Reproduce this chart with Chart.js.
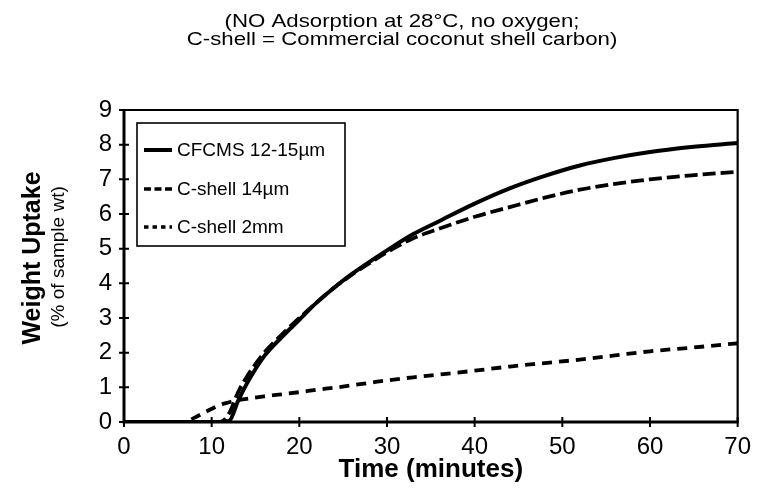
<!DOCTYPE html>
<html><head><meta charset="utf-8">
<script src="https://cdn.jsdelivr.net/npm/chart.js@4"></script>
<style>html,body{margin:0;padding:0;background:#fff;}</style>
</head><body>
<canvas id="c" width="762" height="489"></canvas>
<script>
const titleLines = ['(NO Adsorption at 28°C, no oxygen;', 'C-shell = Commercial coconut shell carbon)'];
const yTitle = 'Weight Uptake';
const ySubTitle = '(% of sample wt)';
const xTitle = 'Time (minutes)';
const seriesNames = ['CFCMS 12-15µm', 'C-shell 14µm', 'C-shell 2mm'];
const times     = [0, 5, 7, 8, 10, 11, 12, 13, 14, 16, 18, 20, 22, 24, 26, 28, 30, 33, 36, 40, 44, 48, 52, 56, 60, 65, 70];
const cfcms     = [0, 0, 0, 0, 0, 0, 0.03, 0.6, 1.1, 1.9, 2.45, 2.95, 3.45, 3.88, 4.27, 4.62, 4.95, 5.42, 5.8, 6.3, 6.74, 7.1, 7.4, 7.62, 7.79, 7.94, 8.05];
const cshell14  = [0, 0, 0, 0, 0, 0, 0.25, 0.85, 1.3, 2.0, 2.52, 3.0, 3.45, 3.88, 4.25, 4.58, 4.9, 5.3, 5.58, 5.92, 6.2, 6.47, 6.7, 6.87, 7.0, 7.12, 7.22];
const cshell2mm = [0, 0, 0, 0.12, 0.38, 0.5, 0.57, 0.63, 0.67, 0.74, 0.8, 0.86, 0.93, 0.99, 1.06, 1.13, 1.2, 1.29, 1.37, 1.48, 1.6, 1.7, 1.8, 1.92, 2.04, 2.15, 2.27];
const xTicks = [0, 10, 20, 30, 40, 50, 60, 70];
const yTicks = [0, 1, 2, 3, 4, 5, 6, 7, 8, 9];

const FONT = 'Liberation Sans, Arial, Helvetica, sans-serif';
const toPts = arr => arr.map((v, i) => ({x: times[i], y: v}));

const legendDash = [[], [7, 3.5], [4.5, 4]];

const decor = {
  id: 'decor',
  afterDatasetsDraw(chart) {
    const {ctx, chartArea: a, scales: {x, y}} = chart;
    ctx.save();
    ctx.strokeStyle = '#000';
    ctx.fillStyle = '#000';
    ctx.setLineDash([]);
    // frame
    ctx.lineWidth = 2.2;
    ctx.beginPath();
    ctx.moveTo(a.left, a.top); ctx.lineTo(a.right, a.top); ctx.lineTo(a.right, a.bottom);
    ctx.stroke();
    ctx.lineWidth = 3;
    ctx.beginPath();
    ctx.moveTo(a.left, a.top - 1); ctx.lineTo(a.left, a.bottom); ctx.lineTo(a.right + 1, a.bottom);
    ctx.stroke();
    // ticks crossing axes
    ctx.lineWidth = 2;
    ctx.beginPath();
    xTicks.forEach(v => { const p = x.getPixelForValue(v); ctx.moveTo(p, a.bottom - 5); ctx.lineTo(p, a.bottom + 5); });
    yTicks.forEach(v => { const p = y.getPixelForValue(v); ctx.moveTo(a.left - 5, p); ctx.lineTo(a.left + 5, p); });
    ctx.stroke();
    // legend
    const lx = a.left + 13, ly = a.top + 13, lw = 208, lh = 123;
    ctx.lineWidth = 1.6;
    ctx.strokeRect(lx, ly, lw, lh);
    const rows = [27, 66, 104];
    ctx.font = '19px ' + FONT;
    ctx.textAlign = 'left';
    ctx.textBaseline = 'middle';
    chart.data.datasets.forEach((ds, i) => {
      const yy = ly + rows[i];
      ctx.lineWidth = i === 0 ? 4 : 3.6;
      ctx.setLineDash(legendDash[i]);
      ctx.beginPath(); ctx.moveTo(lx + 7, yy); ctx.lineTo(lx + 35, yy); ctx.stroke();
      ctx.setLineDash([]);
      ctx.fillText(ds.label, lx + 40, yy + 1);
    });
    ctx.restore();
  },
  afterDraw(chart) {
    const {ctx} = chart;
    ctx.save();
    ctx.fillStyle = '#000';
    // title
    ctx.font = '19px ' + FONT;
    ctx.textAlign = 'center';
    ctx.textBaseline = 'alphabetic';
    [27, 45].forEach((b, i) => {
      ctx.save();
      ctx.translate(402, b);
      ctx.scale(1.17, 1);
      ctx.fillText(titleLines[i], 0, 0);
      ctx.restore();
    });
    // y titles
    ctx.textBaseline = 'middle';
    ctx.save();
    ctx.translate(33, 258);
    ctx.rotate(-Math.PI / 2);
    ctx.font = 'bold 25px ' + FONT;
    ctx.fillText(yTitle, 0, 0);
    ctx.restore();
    ctx.save();
    ctx.translate(59, 257);
    ctx.rotate(-Math.PI / 2);
    ctx.font = '19px ' + FONT;
    ctx.fillText(ySubTitle, 0, 0);
    ctx.restore();
    ctx.restore();
  }
};

new Chart(document.getElementById('c'), {
  type: 'line',
  data: {
    datasets: [
      {label: seriesNames[0], data: toPts(cfcms), borderColor: '#000', borderWidth: 4, borderDash: [], pointRadius: 0, cubicInterpolationMode: 'monotone', fill: false},
      {label: seriesNames[1], data: toPts(cshell14), borderColor: '#000', borderWidth: 3.8, borderDash: [13, 5], pointRadius: 0, cubicInterpolationMode: 'monotone', fill: false},
      {label: seriesNames[2], data: toPts(cshell2mm), borderColor: '#000', borderWidth: 3.8, borderDash: [10, 7], pointRadius: 0, cubicInterpolationMode: 'monotone', fill: false}
    ]
  },
  options: {
    responsive: false,
    animation: false,
    devicePixelRatio: 1,
    layout: {padding: {top: 110, right: 22, left: 0, bottom: 0}},
    plugins: {legend: {display: false}, tooltip: {enabled: false}, title: {display: false}},
    scales: {
      x: {
        type: 'linear', min: 0, max: 70,
        afterFit(s) { s.height = 67; },
        afterBuildTicks(s) { s.ticks = xTicks.map(v => ({value: v})); },
        ticks: {font: {family: FONT, size: 24}, color: '#000', padding: 11, maxRotation: 0, autoSkip: false},
        grid: {display: false, drawTicks: false},
        border: {display: false},
        title: {display: true, text: xTitle, color: '#000', font: {family: FONT, size: 26, weight: 'bold'}, padding: {top: 0, bottom: 4}}
      },
      y: {
        type: 'linear', min: 0, max: 9,
        afterFit(s) { s.width = 124; },
        afterBuildTicks(s) { s.ticks = yTicks.map(v => ({value: v})); },
        ticks: {font: {family: FONT, size: 24}, color: '#000', padding: 12, autoSkip: false},
        grid: {display: false, drawTicks: false},
        border: {display: false}
      }
    }
  },
  plugins: [decor]
});
</script>
</body></html>
